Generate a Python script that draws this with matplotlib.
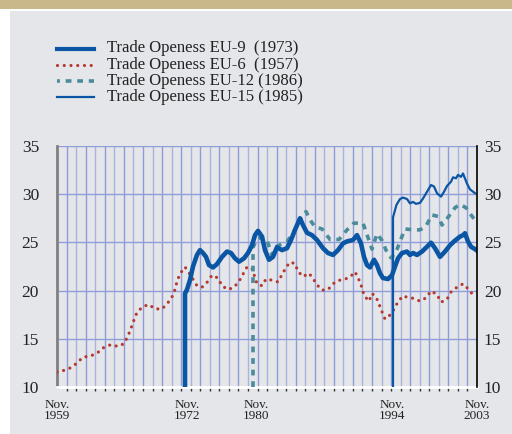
import matplotlib
matplotlib.use("Agg")
import matplotlib.pyplot as plt
import matplotlib.patches as patches
from matplotlib.lines import Line2D
import numpy as np

plt.rcParams['font.family'] = ['Liberation Serif', 'DejaVu Serif']

# x in "period" units (0 = Nov 1959, 42 = Nov 2003)
eu6_x = [0.0, 0.8, 1.5, 2.1, 2.6, 3.3, 4.0, 4.6, 5.4, 6.1, 6.7, 7.1, 7.4, 7.7, 8.0, 8.6, 9.2, 9.8,
         10.5, 11.0, 11.5, 11.8, 12.0, 12.3, 12.8, 13.2, 14.0, 14.5, 15.0, 15.5, 16.1, 16.5, 17.1,
         17.7, 18.2, 18.6, 19.0, 19.5, 20.0, 20.5, 20.9, 21.4, 22.1, 22.5, 22.9, 23.3, 23.8, 24.1,
         24.6, 25.2, 25.6, 26.0, 26.5, 27.1, 27.6, 28.1, 28.7, 29.3, 29.8, 30.2, 30.5, 30.7, 31.2,
         31.5, 31.9, 32.2, 32.5, 32.8, 33.4, 33.8, 34.1, 34.6, 35.2, 35.7, 36.3, 36.9, 37.4, 38.0,
         38.4, 39.0, 39.4, 40.0, 40.6, 41.0, 41.4, 41.8]
eu6_y = [11.55, 11.75, 12.05, 12.6, 13.1, 13.2, 13.5, 14.05, 14.4, 14.2, 14.5, 15.3, 16.1, 16.95,
         17.75, 18.35, 18.55, 18.1, 18.1, 18.6, 19.35, 20.1, 20.95, 21.75, 22.45, 21.85, 20.5,
         20.35, 20.85, 21.6, 21.3, 20.5, 20.1, 20.35, 20.95, 21.7, 22.45, 22.3, 20.7, 20.5, 21.2,
         21.1, 20.9, 21.65, 22.4, 22.95, 22.8, 22.0, 21.45, 21.8, 21.25, 20.6, 20.05, 20.1, 20.7,
         21.05, 21.15, 21.4, 21.95, 21.1, 20.3, 19.5, 18.9, 19.7, 19.35, 18.6, 17.8, 17.05, 17.55,
         18.25, 18.85, 19.45, 19.25, 19.2, 18.9, 19.25, 19.95, 19.6, 18.8, 19.1, 19.85, 20.35,
         20.7, 20.3, 19.8, 19.4]

eu9_x = [12.8, 12.8, 13.0, 13.3, 13.6, 14.0, 14.3, 14.6, 14.9, 15.2, 15.6, 16.0, 16.5, 17.0, 17.4,
         17.8, 18.2, 18.7, 19.1, 19.5, 19.8, 20.1, 20.5, 20.8, 21.2, 21.6, 22.0, 22.5, 23.0, 23.4,
         23.8, 24.3, 24.6, 25.0, 25.5, 26.0, 26.6, 27.1, 27.6, 28.1, 28.6, 29.0, 29.6, 30.0, 30.4,
         30.7, 31.0, 31.3, 31.7, 32.0, 32.3, 32.6, 33.1, 33.5, 33.8, 34.1, 34.5, 35.0, 35.3, 35.6,
         36.0, 36.5, 37.0, 37.4, 37.8, 38.3, 38.8, 39.3, 39.7, 40.3, 40.6, 40.8, 41.1, 41.4, 41.8,
         42.0]
eu9_y = [10.0, 19.7, 20.1, 21.1, 22.5, 23.7, 24.2, 23.9, 23.5, 22.65, 22.4, 22.75, 23.5, 24.05,
         23.9, 23.35, 23.0, 23.35, 23.9, 24.7, 25.75, 26.2, 25.6, 24.2, 23.2, 23.5, 24.5, 24.2,
         24.4, 25.25, 26.3, 27.5, 26.8, 26.0, 25.75, 25.25, 24.4, 23.9, 23.7, 24.2, 24.9, 25.1,
         25.25, 25.75, 24.9, 23.5, 22.65, 22.4, 23.2, 22.65, 21.8, 21.3, 21.2, 21.6, 22.5, 23.35,
         23.9, 24.05, 23.7, 23.9, 23.7, 24.05, 24.55, 24.97, 24.4, 23.5, 24.05, 24.7, 25.1, 25.6,
         25.75, 25.95, 25.1, 24.55, 24.3, 24.15]

eu12_x = [19.6, 19.6, 20.0, 20.5, 21.0, 21.5, 22.0, 22.6, 23.0, 23.6, 24.3, 24.9, 25.4, 25.8, 26.5,
          27.3, 28.2, 29.0, 29.7, 30.6, 31.0, 31.5, 32.0, 32.5, 32.9, 33.4, 33.9, 34.3, 34.8, 35.6,
          36.3, 36.9, 37.5, 38.1, 38.5, 39.1, 39.8, 40.3, 40.9, 41.3, 41.8]
eu12_y = [10.0, 24.5, 25.3, 25.6, 25.2, 23.7, 24.6, 24.9, 25.1, 25.9, 27.4, 28.2, 27.2, 26.6, 26.4,
          25.3, 25.3, 26.3, 27.0, 27.0, 25.8, 24.3, 25.9, 25.2, 24.2, 23.4, 24.0, 25.1, 26.4, 26.3,
          26.3, 26.7, 27.85, 27.7, 26.8, 27.6, 28.6, 28.95, 28.6, 28.0, 27.3]

eu15_x = [33.6, 33.6, 33.95, 34.3, 34.6, 35.0, 35.3, 35.6, 35.9, 36.3, 36.6, 37.0, 37.4, 37.7, 38.0,
          38.4, 38.7, 39.0, 39.4, 39.6, 39.9, 40.1, 40.4, 40.6, 41.0, 41.3, 41.8]
eu15_y = [10.0, 27.6, 28.9, 29.5, 29.65, 29.5, 29.05, 29.2, 29.0, 29.1, 29.55, 30.25, 30.95, 30.8,
          30.1, 29.75, 30.25, 30.85, 31.3, 31.75, 31.65, 32.0, 31.8, 32.15, 31.1, 30.5, 30.1]

labels = ["Trade Openess EU-9  (1973)", "Trade Openess EU-6  (1957)",
          "Trade Openess EU-12 (1986)", "Trade Openess EU-15 (1985)"]
tick_pos = [0.0, 13.0, 19.9, 33.5, 42.0]
tick_labels = ["Nov.\n1959", "Nov.\n1972", "Nov.\n1980", "Nov.\n1994", "Nov.\n2003"]
y_ticks = [10, 15, 20, 25, 30, 35]

W, H = 512, 434
fig = plt.figure(figsize=(W / 100, H / 100), dpi=100)
fig.patch.set_facecolor('white')
fig.add_artist(patches.Rectangle((10 / W, 0), 1, 1 - 11 / H, transform=fig.transFigure,
                                 facecolor='#e5e6e9', edgecolor='none', zorder=0))
fig.add_artist(patches.Rectangle((0, 1 - 9 / H), 1, 9 / H, transform=fig.transFigure,
                                 facecolor='#c9b98a', edgecolor='none', zorder=0))

ax = fig.add_axes([57 / W, 1 - 387 / H, 420 / W, 241 / H])
ax.set_facecolor('none')
ax.set_xlim(0, 42)
ax.set_ylim(10, 35)

grid_x = 0.97 + 0.954 * np.arange(43)
grid_x = grid_x[grid_x < 42]
for k, gx in enumerate(grid_x):
    ax.axvline(gx, color='#8e9cd6' if k % 2 == 0 else '#a9b3dc', lw=1.0, zorder=1)
for gy in [15, 20, 25, 30, 35]:
    ax.axhline(gy, color='#8f9ed8', lw=1.0, zorder=1)

blue = '#0a56a4'
red = '#b5392f'
teal = '#4b8c9b'
ax.plot(eu6_x, eu6_y, color=red, lw=2.3, linestyle=(0, (0.01, 2.1)),
        dash_capstyle='round', zorder=3)
ax.plot(eu12_x, eu12_y, color=teal, lw=2.6, linestyle=(0, (1.6, 1.6)),
        dash_capstyle='butt', zorder=4)
ax.plot(eu15_x, eu15_y, color=blue, lw=1.6, zorder=5)
ax.plot(eu9_x, eu9_y, color=blue, lw=3.3, zorder=6, solid_joinstyle='round')

ax.spines['top'].set_visible(False)
ax.spines['left'].set_color('#7f7f7f')
ax.spines['left'].set_linewidth(2.0)
ax.spines['right'].set_visible(False)
ax.spines['bottom'].set_color('white')
ax.spines['bottom'].set_linewidth(2.0)
ax.axvline(0.12, color='white', lw=1.2, zorder=2)

ax.set_yticks(y_ticks)
ax.tick_params(axis='y', length=0, labelsize=12.5, pad=13, colors='#222222')

ax.set_xticks(tick_pos)
ax.set_xticklabels(tick_labels, fontsize=9.5, linespacing=0.85, color='#222222')
ax.tick_params(axis='x', length=0, pad=9)
ax.set_xticks(grid_x, minor=True)
ax.tick_params(axis='x', which='minor', length=3, width=1, color='#333333', direction='out')

ax2 = ax.twinx()
ax2.set_ylim(10, 35)
ax2.set_yticks(y_ticks)
ax2.tick_params(axis='y', length=0, labelsize=12.5, pad=5, colors='#222222')
for s in ['top', 'left', 'bottom']:
    ax2.spines[s].set_visible(False)
ax2.spines['right'].set_color('black')
ax2.spines['right'].set_linewidth(1.2)

# legend drawn manually
styles = [dict(color=blue, lw=3.0),
          dict(color=red, lw=2.3, linestyle=(0, (0.01, 2.1)), dash_capstyle='round'),
          dict(color=teal, lw=2.6, linestyle=(0.8, (1.6, 1.6)), dash_capstyle='butt'),
          dict(color=blue, lw=1.6)]
for i, (lab, st) in enumerate(zip(labels, styles)):
    yc = 1 - (48.5 + 16.3 * i) / H
    fig.add_artist(Line2D([57 / W, 94 / W], [yc, yc], transform=fig.transFigure, **st))
    fig.text(107 / W, yc, lab, fontsize=12, va='center', ha='left', color='#222222')

fig.savefig('out.png', dpi=100, facecolor=fig.get_facecolor())
